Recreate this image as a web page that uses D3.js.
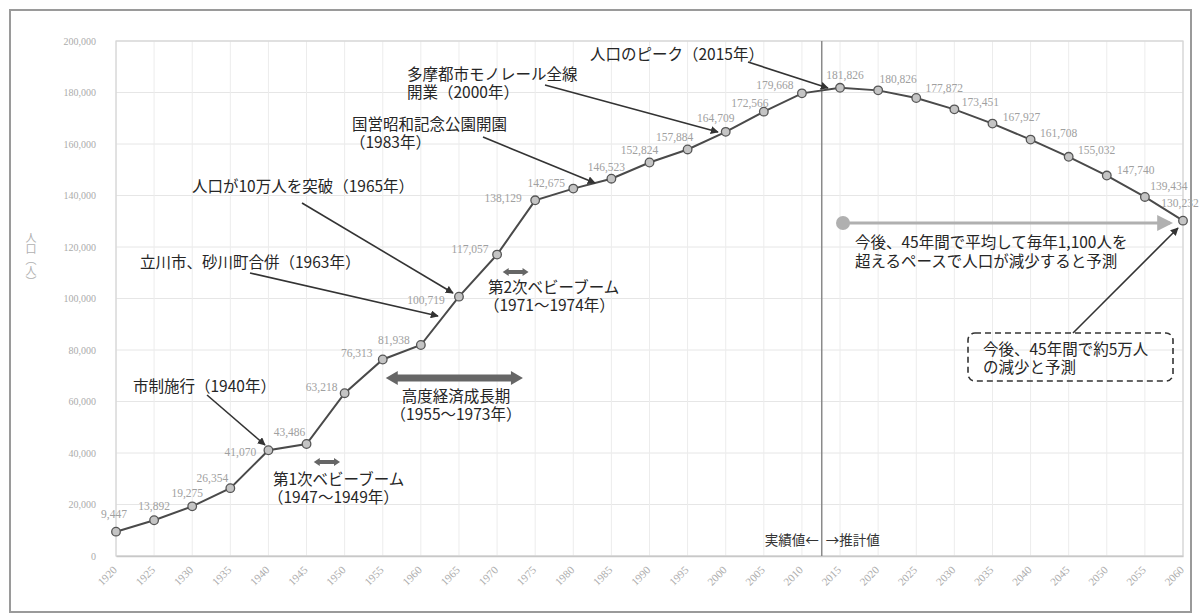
<!DOCTYPE html>
<html><head><meta charset="utf-8">
<script src="https://cdn.jsdelivr.net/npm/d3@7"></script>
<style>
html,body{margin:0;padding:0;background:#fff;}
svg{display:block;font-family:"Noto Sans CJK JP","Noto Sans",sans-serif;}
</style></head>
<body>
<svg id="chart" width="1203" height="615"></svg>
<script>
const years = [1920,1925,1930,1935,1940,1945,1950,1955,1960,1965,1970,1975,1980,1985,1990,1995,2000,2005,2010,2015,2020,2025,2030,2035,2040,2045,2050,2055,2060];
const population = [9447,13892,19275,26354,41070,43486,63218,76313,81938,100719,117057,138129,142675,146523,152824,157884,164709,172566,179668,181826,180826,177872,173451,167927,161708,155032,147740,139434,130232];
const yTicks = [0,20000,40000,60000,80000,100000,120000,140000,160000,180000,200000];
// label placement offsets (layout only)
const labelOffsets = [[-2,-18],[0,-14],[-5,-13],[-18,-10],[-28,2],[-17,-12],[-23,-6],[-26,-6],[-27,-5],[-33,3],[-27,-6],[-32,-2],[-27,-6],[-5,-12],[-10,-12],[-13,-12],[-10,-14],[-14,-9],[-27,-8],[5,-13],[20,-11],[28,-10],[26,-7],[29,-7],[28,-7],[28,-7],[29,-6],[24,-11],[-3,-18]];
const dividerYear = 2012.6;

const svg = d3.select("#chart");
const x = d3.scaleLinear().domain([1920,2060]).range([116,1183]);
const y = d3.scaleLinear().domain([0,200000]).range([556,41]);

// outer frame
svg.append("rect").attr("x",10).attr("y",10).attr("width",1181).attr("height",602)
  .attr("fill","none").attr("stroke","#9a9a9a").attr("stroke-width",2);

// defs
const defs = svg.append("defs");
defs.append("marker").attr("id","ah").attr("viewBox","0 0 10 10").attr("refX",9).attr("refY",5)
  .attr("markerWidth",8).attr("markerHeight",8).attr("markerUnits","userSpaceOnUse").attr("orient","auto")
  .append("path").attr("d","M0,0L10,5L0,10z").attr("fill","#333");
defs.append("marker").attr("id","gah").attr("viewBox","0 0 10 10").attr("refX",8).attr("refY",5)
  .attr("markerWidth",16).attr("markerHeight",16).attr("markerUnits","userSpaceOnUse").attr("orient","auto")
  .append("path").attr("d","M0,0L10,5L0,10z").attr("fill","#b0b0b0");

// grid
const g = svg.append("g");
g.selectAll(".hg").data(yTicks).join("line").attr("x1",x(1920)).attr("x2",x(2060))
  .attr("y1",d=>y(d)).attr("y2",d=>y(d)).attr("stroke","#e6e6e6").attr("stroke-width",1);
g.selectAll(".vg").data(years).join("line").attr("x1",d=>x(d)).attr("x2",d=>x(d))
  .attr("y1",y(0)).attr("y2",y(200000)).attr("stroke","#ececec").attr("stroke-width",1);
g.append("rect").attr("x",x(1920)).attr("y",y(200000)).attr("width",x(2060)-x(1920)).attr("height",y(0)-y(200000))
  .attr("fill","none").attr("stroke","#d4d4d4").attr("stroke-width",1.2);

// y axis
const yAxis = d3.axisLeft(y).tickValues(yTicks).tickFormat(d3.format(",")).tickSize(0).tickPadding(20);
const ya = svg.append("g").attr("transform",`translate(${x(1920)},0)`).call(yAxis);
ya.select(".domain").remove();
ya.selectAll("text").attr("fill","#ababab").attr("font-size",10).style("font-family","'Liberation Serif',serif");

// x axis line
const xAxis = d3.axisBottom(x).tickValues(years).tickFormat("").tickSize(0);
const xa = svg.append("g").attr("transform",`translate(0,${y(0)})`).call(xAxis);
xa.select(".domain").attr("stroke","#c8c8c8").attr("stroke-width",1.5);
xa.selectAll(".tick text").remove();
// rotated x labels
const xl = svg.append("g");
xl.selectAll("g").data(years).join("g")
  .attr("transform",d=>`translate(${x(d)-1},${y(0)+12}) rotate(-45)`)
  .append("text").attr("x",0).attr("y",0)
  .attr("text-anchor","end").attr("dy","0.35em")
  .attr("fill","#ababab").attr("font-size",11).style("font-family","'Liberation Serif',serif")
  .text(d=>String(d));

// y axis title (vertical)
svg.append("text").attr("x",31).attr("y",232).attr("fill","#b0b0b0").attr("font-size",11)
  .style("writing-mode","vertical-rl")
  .text("人口（人）");

// divider
svg.append("line").attr("x1",x(dividerYear)).attr("x2",x(dividerYear)).attr("y1",y(200000)).attr("y2",y(0))
  .attr("stroke","#8a8a8a").attr("stroke-width",1.5);
svg.append("text").attr("x",x(dividerYear)-3).attr("y",545).attr("text-anchor","end").attr("font-size",13.5).attr("fill","#333").text("実績値←");
svg.append("text").attr("x",x(dividerYear)+4).attr("y",545).attr("text-anchor","start").attr("font-size",13.5).attr("fill","#333").text("→推計値");

// series
const pts = years.map((yr,i)=>({yr,v:population[i],o:labelOffsets[i]}));
svg.append("path").datum(pts).attr("fill","none").attr("stroke","#4a4a4a").attr("stroke-width",2)
  .attr("d",d3.line().x(d=>x(d.yr)).y(d=>y(d.v)));
svg.selectAll(".pt").data(pts).join("circle").attr("cx",d=>x(d.yr)).attr("cy",d=>y(d.v)).attr("r",4.3)
  .attr("fill","#c4c4c4").attr("stroke","#555").attr("stroke-width",1.3);
svg.selectAll(".lbl").data(pts).join("text").attr("x",d=>x(d.yr)+d.o[0]).attr("y",d=>y(d.v)+d.o[1]+4)
  .attr("text-anchor","middle").attr("font-size",11.5).attr("fill","#a0a0a0")
  .style("font-family","'Liberation Serif',serif").text(d=>d3.format(",")(d.v));

// annotations
const ann = svg.append("g").attr("fill","#262626").attr("font-size",15.5);
function txt(t,xx,yy,anchor){ann.append("text").attr("x",xx).attr("y",yy).attr("text-anchor",anchor||"start").text(t);}
txt("人口のピーク（2015年）",590,60);
txt("多摩都市モノレール全線",407,80);
txt("開業（2000年）",407,98);
txt("国営昭和記念公園開園",352,130);
txt("（1983年）",350,148);
txt("人口が10万人を突破（1965年）",192,192);
txt("立川市、砂川町合併（1963年）",140,268);
txt("市制施行（1940年）",133,392);
txt("第1次ベビーブーム",273,485);
txt("（1947〜1949年）",268,503);
txt("高度経済成長期",456,402,"middle");
txt("（1955〜1973年）",456,420,"middle");
txt("第2次ベビーブーム",488,293);
txt("（1971〜1974年）",484,311);
txt("今後、45年間で平均して毎年1,100人を",855,248);
txt("超えるペースで人口が減少すると予測",855,267);
txt("今後、45年間で約5万人",983,355);
txt("の減少と予測",983,373);

// arrows
const arrows = [[207,395,265,445],[250,273,438,316],[302,203,453,293],[483,137,595,183],[545,85,718,132],[748,62,828,88],[1073,333,1178,228]];
svg.selectAll(".arr").data(arrows).join("line").attr("x1",d=>d[0]).attr("y1",d=>d[1]).attr("x2",d=>d[2]).attr("y2",d=>d[3])
  .attr("stroke","#333").attr("stroke-width",1.6).attr("marker-end","url(#ah)");

// dashed box
svg.append("rect").attr("x",968).attr("y",333).attr("width",205).attr("height",48).attr("rx",7)
  .attr("fill","none").attr("stroke","#333").attr("stroke-width",1.6).attr("stroke-dasharray","6,4");

// gray projection arrow
svg.append("circle").attr("cx",843).attr("cy",223).attr("r",7).attr("fill","#b0b0b0");
svg.append("line").attr("x1",843).attr("y1",223).attr("x2",1170).attr("y2",223).attr("stroke","#b0b0b0").attr("stroke-width",3).attr("marker-end","url(#gah)");

// double arrows
function dbl(x1,x2,yy,th,hw,hl){
  const p = `M${x1},${yy} L${x1+hl},${yy-hw} L${x1+hl},${yy-th/2} L${x2-hl},${yy-th/2} L${x2-hl},${yy-hw} L${x2},${yy} L${x2-hl},${yy+hw} L${x2-hl},${yy+th/2} L${x1+hl},${yy+th/2} L${x1+hl},${yy+hw} Z`;
  svg.append("path").attr("d",p).attr("fill","#666");
}
dbl(x(1955)+3,x(1973)+3,378,7,7,12);
dbl(x(1947)-8,x(1949)+3,462,4,4,6);
dbl(x(1971)-2,x(1974)+1,272,4,4,6);
</script>
</body></html>
